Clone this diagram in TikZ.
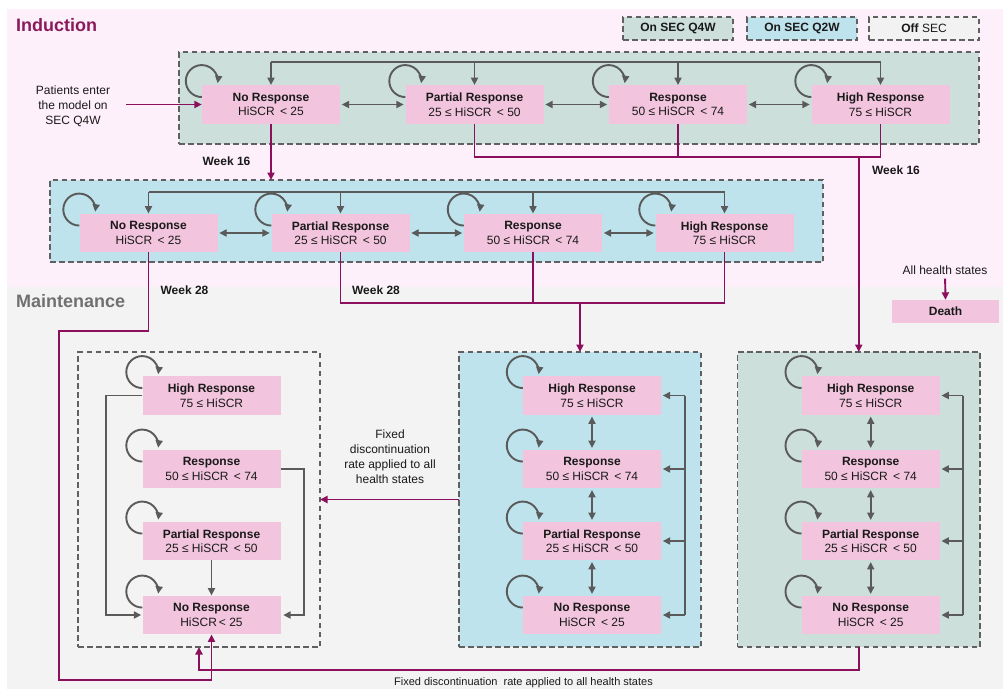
\documentclass[tikz,border=0pt]{standalone}
\usepackage{fontspec}
\setmainfont{Liberation Sans}
\usetikzlibrary{arrows.meta}
\definecolor{pinkbg}{HTML}{FDF0FB}
\definecolor{graybg}{HTML}{F3F3F3}
\definecolor{nodepink}{HTML}{F2C4DD}
\definecolor{greenc}{HTML}{CCDFDA}
\definecolor{bluec}{HTML}{BEE3EC}
\definecolor{mag}{HTML}{8C0F5E}
\definecolor{lgray}{HTML}{5A5A5A}
\definecolor{dgray}{HTML}{606060}
\definecolor{indc}{HTML}{8B1A5B}
\definecolor{maic}{HTML}{707070}
\definecolor{offfill}{HTML}{F2F2F2}
\definecolor{txt}{HTML}{1A1A1A}
\newcommand{\myloop}[1]{\draw[gloop] ([yshift=-12pt]#1.north west) arc[start angle=90,end angle=368,radius=16];}
\tikzset{
  st/.style={fill=nodepink, minimum width=138pt, minimum height=38.5pt, inner sep=0pt, align=center, text=txt, font=\fontsize{12}{14.5}\selectfont},
  cont/.style={draw=dgray, dash pattern=on 5.5pt off 3.5pt, line width=1.5pt, inner sep=0pt, outer sep=0pt},
  lbl/.style={align=center, text=txt, font=\fontsize{12}{15}\selectfont, inner sep=0pt},
  wk/.style={text=txt, font=\bfseries\fontsize{12}{14}\selectfont, inner sep=0pt},
  tip/.style={-{Triangle[length=7.5pt,width=7pt]}},
  gline/.style={draw=lgray, line width=1.9pt},
  garr/.style={draw=lgray, line width=1.9pt, tip},
  gdarr/.style={draw=lgray, line width=1.9pt, {Triangle[length=7.5pt,width=7pt]}-{Triangle[length=7.5pt,width=7pt]}, shorten <=1.5pt, shorten >=1.5pt},
  gloop/.style={draw=lgray, line width=1.9pt, tip},
  mline/.style={draw=mag, line width=1.9pt},
  marr/.style={draw=mag, line width=1.9pt, tip},
}
\begin{document}
\begin{tikzpicture}[x=1pt,y=-1pt]
\useasboundingbox (0,0) rectangle (1003,689);
\fill[pinkbg] (7,9) rectangle (1003,287);
\fill[graybg] (7,287) rectangle (1003,689);

% titles
\node[anchor=west, text=indc, font=\bfseries\fontsize{18}{20}\selectfont, inner sep=0pt] (tind) at (16,25) {Induction};
\node[anchor=west, text=maic, font=\bfseries\fontsize{18}{20}\selectfont, inner sep=0pt] (tmai) at (16,301) {Maintenance};

% legend
\node[cont, fill=greenc, minimum width=110pt, minimum height=23pt, font=\bfseries\fontsize{12}{14}\selectfont, text=txt] (lq4) at (678,28.5) {On SEC Q4W};
\node[cont, fill=bluec, minimum width=110pt, minimum height=23pt, font=\bfseries\fontsize{12}{14}\selectfont, text=txt] (lq2) at (802,28.5) {On SEC Q2W};
\node[cont, fill=offfill, minimum width=110pt, minimum height=23pt, font=\fontsize{12}{14}\selectfont, text=txt] (loff) at (924,28.5) {\textbf{Off} SEC};

% containers
\node[cont, fill=greenc, minimum width=800pt, minimum height=92pt] (c1) at (579,98) {};
\node[cont, fill=bluec, minimum width=773pt, minimum height=82pt] (c2) at (436.5,221) {};
\node[cont, minimum width=242pt, minimum height=295pt] (offc) at (199,499.5) {};
\node[cont, fill=bluec, minimum width=242pt, minimum height=295pt] (bmc) at (580,499.5) {};
\node[cont, fill=greenc, minimum width=242.5pt, minimum height=295pt] (gmc) at (858.75,499.5) {};

% row 1 (induction, Q4W)
\node[st] (nr1) at (271,104.5) {\textbf{No Response}\\HiSCR\ \,< 25};
\node[st] (pr1) at (474.5,104.5) {\textbf{Partial Response}\\25 ≤ HiSCR\ \,< 50};
\node[st] (rr1) at (678,104.5) {\textbf{Response}\\50 ≤ HiSCR\ \,< 74};
\node[st] (hr1) at (880.5,104.5) {\textbf{High Response}\\75 ≤ HiSCR};

% row 2 (induction, Q2W)
\node[st] (nr2) at (148.5,233) {\textbf{No Response}\\HiSCR\ \,< 25};
\node[st] (pr2) at (340.5,233) {\textbf{Partial Response}\\25 ≤ HiSCR\ \,< 50};
\node[st] (rr2) at (533,233) {\textbf{Response}\\50 ≤ HiSCR\ \,< 74};
\node[st] (hr2) at (724.5,233) {\textbf{High Response}\\75 ≤ HiSCR};

% maintenance off SEC
\node[st] (hro) at (211.5,395.5) {\textbf{High Response}\\75 ≤ HiSCR};
\node[st] (rro) at (211.5,469) {\textbf{Response}\\50 ≤ HiSCR\ \,< 74};
\node[st] (pro) at (211.5,541) {\textbf{Partial Response}\\25 ≤ HiSCR\ \,< 50};
\node[st] (nro) at (211.5,615) {\textbf{No Response}\\HiSCR\,< 25};

% maintenance Q2W
\node[st] (hrb) at (592,395.5) {\textbf{High Response}\\75 ≤ HiSCR};
\node[st] (rrb) at (592,469) {\textbf{Response}\\50 ≤ HiSCR\ \,< 74};
\node[st] (prb) at (592,541) {\textbf{Partial Response}\\25 ≤ HiSCR\ \,< 50};
\node[st] (nrb) at (592,615) {\textbf{No Response}\\HiSCR\ \,< 25};

% maintenance Q4W
\node[st] (hrg) at (870.7,395.5) {\textbf{High Response}\\75 ≤ HiSCR};
\node[st] (rrg) at (870.7,469) {\textbf{Response}\\50 ≤ HiSCR\ \,< 74};
\node[st] (prg) at (870.7,541) {\textbf{Partial Response}\\25 ≤ HiSCR\ \,< 50};
\node[st] (nrg) at (870.7,615) {\textbf{No Response}\\HiSCR\ \,< 25};

% death
\node[lbl] (allhs) at (945,270) {All health states};
\node[st, minimum width=107pt, minimum height=23pt] (death) at (945.5,311.5) {\textbf{Death}};
\draw[marr, shorten <=4pt] (allhs.south) -- (death.north);

% labels
\node[lbl] (entry) at (73,106) {Patients enter\\the model on\\SEC Q4W};
\node[wk] (w16a) at (226.5,161) {Week 16};
\node[wk] (w16b) at (896,170) {Week 16};
\node[wk] (w28a) at (184.5,290) {Week 28};
\node[wk] (w28b) at (376,290) {Week 28};
\node[lbl] (fixm) at (390,456.5) {Fixed\\discontinuation\\rate applied to all\\health states};
\node[lbl, font=\fontsize{11}{13}\selectfont] (fixb) at (523.5,683) {Fixed discontinuation\ \ rate applied to all health states};

% self loops
\foreach \n in {nr1,pr1,rr1,hr1,nr2,pr2,rr2,hr2,hro,rro,pro,nro,hrb,rrb,prb,nrb,hrg,rrg,prg,nrg}{\myloop{\n}}

% row 1 gray connectors
\coordinate (b1) at (0,62);
\draw[gline] (nr1.north |- b1) -- (hr1.north |- b1);
\foreach \n in {nr1,pr1,rr1,hr1}{\draw[garr] (\n.north |- b1) -- (\n.north);}
\draw[gdarr] (nr1.east) -- (pr1.west);
\draw[gdarr] (pr1.east) -- (rr1.west);
\draw[gdarr] (rr1.east) -- (hr1.west);

% row 2 gray connectors
\coordinate (b2) at (0,192);
\draw[gline] (nr2.north |- b2) -- (hr2.north |- b2);
\foreach \n in {nr2,pr2,rr2,hr2}{\draw[garr] (\n.north |- b2) -- (\n.north);}
\draw[gdarr] (nr2.east) -- (pr2.west);
\draw[gdarr] (pr2.east) -- (rr2.west);
\draw[gdarr] (rr2.east) -- (hr2.west);

% off SEC connectors
\coordinate (lx) at (106,0);
\coordinate (rx) at (304,0);
\draw[garr, shorten >=1pt] (hro.west) -- (hro.west -| lx) |- (nro.west);
\draw[garr, shorten >=2.5pt] (rro.east) -- (rro.east -| rx) |- (nro.east);
\draw[garr] (pro.south) -- (nro.north);

% Q2W maintenance connectors
\draw[gdarr] (hrb.south) -- (rrb.north);
\draw[gdarr] (rrb.south) -- (prb.north);
\draw[gdarr] (prb.south) -- (nrb.north);
\coordinate (bx) at (684.6,0);
\draw[gline] (hrb.east -| bx) -- (nrb.east -| bx);
\foreach \n in {hrb,rrb,prb,nrb}{\draw[garr, shorten >=1.5pt] (\n.east -| bx) -- (\n.east);}

% Q4W maintenance connectors
\draw[gdarr] (hrg.south) -- (rrg.north);
\draw[gdarr] (rrg.south) -- (prg.north);
\draw[gdarr] (prg.south) -- (nrg.north);
\coordinate (gx) at (963,0);
\draw[gline] (hrg.east -| gx) -- (nrg.east -| gx);
\foreach \n in {hrg,rrg,prg,nrg}{\draw[garr, shorten >=1.5pt] (\n.east -| gx) -- (\n.east);}

% magenta flows
\draw[marr, shorten <=16pt] (entry.east |- nr1.west) -- (nr1.west);
\draw[marr] (nr1.south) -- (nr1.south |- c2.north);
\coordinate (j1) at (0,157);
\draw[mline] (pr1.south) |- (hr1.south |- j1) -- (hr1.south);
\draw[mline] (rr1.south) -- (rr1.south |- j1);
\draw[marr] (gmc.north |- j1) -- (gmc.north);
\coordinate (j2) at (0,303);
\draw[mline] (pr2.south) |- (hr2.south |- j2) -- (hr2.south);
\draw[mline] (rr2.south) -- (rr2.south |- j2);
\draw[marr] (bmc.north |- j2) -- (bmc.north);
\coordinate (k1) at (59,331);
\coordinate (k2) at (59,680);
\draw[marr] (nr2.south) -- (nr2.south |- k1) -- (k1) -- (k2) -- (nro.south |- k2) -- (nro.south);
\draw[marr] (bmc.west) -- (offc.east);
\coordinate (k3) at (0,670);
\draw[marr] (gmc.south) -- (gmc.south |- k3) -- (offc.south |- k3) -- (offc.south);
\end{tikzpicture}
\end{document}
